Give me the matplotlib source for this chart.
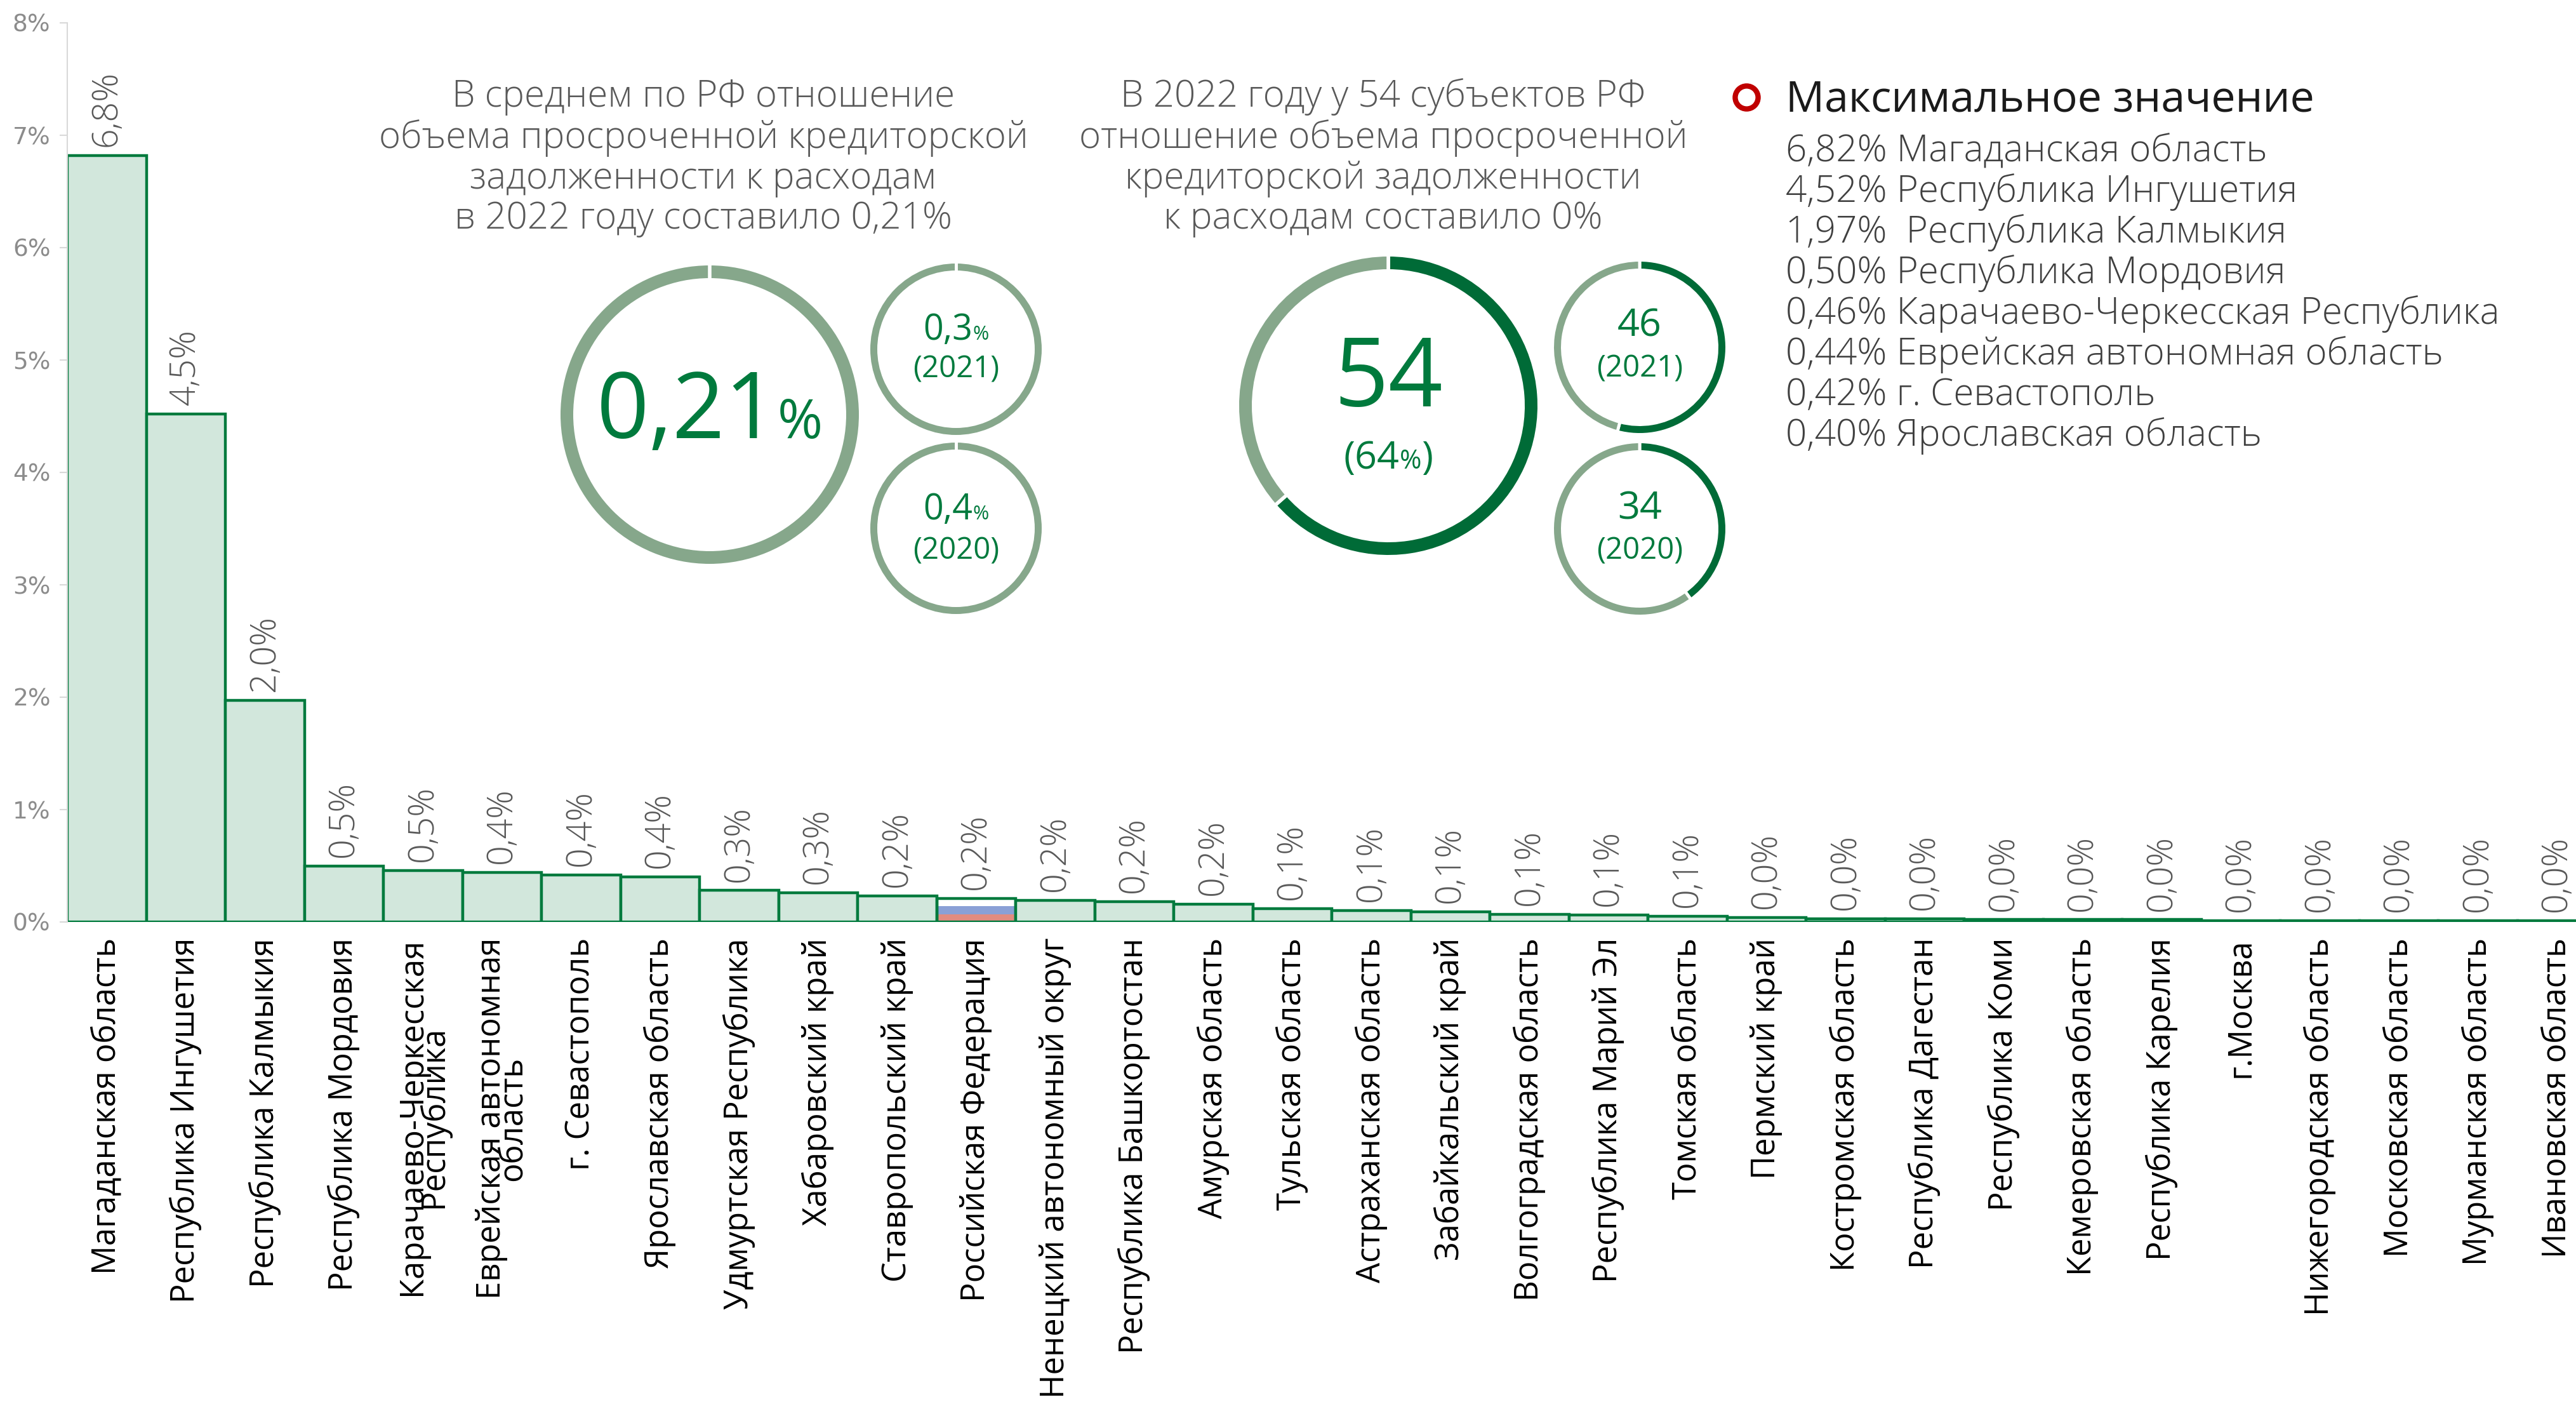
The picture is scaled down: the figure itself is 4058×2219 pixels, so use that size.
import matplotlib
matplotlib.use("Agg")
import matplotlib.pyplot as plt
from matplotlib.lines import Line2D

# data
regions = ['Магаданская область', 'Республика Ингушетия', 'Республика Калмыкия',
           'Республика Мордовия', 'Карачаево-Черкесская\nРеспублика',
           'Еврейская автономная\nобласть', 'г. Севастополь', 'Ярославская область',
           'Удмуртская Республика', 'Хабаровский край', 'Ставропольский край',
           'Российская Федерация', 'Ненецкий автономный округ', 'Республика Башкортостан',
           'Амурская область', 'Тульская область', 'Астраханская область',
           'Забайкальский край', 'Волгоградская область', 'Республика Марий Эл',
           'Томская область', 'Пермский край', 'Костромская область', 'Республика Дагестан',
           'Республика Коми', 'Кемеровская область', 'Республика Карелия', 'г.Москва',
           'Нижегородская область', 'Московская область', 'Мурманская область',
           'Ивановская область']
ratio = [6.82, 4.52, 1.97, 0.50, 0.46, 0.44, 0.42, 0.40, 0.28, 0.26, 0.23, 0.21,
         0.19, 0.18, 0.16, 0.12, 0.10, 0.09, 0.07, 0.06, 0.05, 0.04, 0.03, 0.03,
         0.02, 0.02, 0.02, 0.01, 0.01, 0.01, 0.01, 0.01]
rf_name = 'Российская Федерация'
yticks = [0, 1, 2, 3, 4, 5, 6, 7, 8]

avg_2022, avg_2021, avg_2020 = '0,21', '0,3', '0,4'
subj_total = 85
subj_2022, subj_2021, subj_2020 = 54, 46, 34
subj_share = '64'

text_left = ['В среднем по РФ отношение', 'объема просроченной кредиторской',
             'задолженности к расходам', 'в 2022 году составило 0,21%']
text_mid = ['В 2022 году у 54 субъектов РФ', 'отношение объема просроченной',
            'кредиторской задолженности', 'к расходам составило 0%']
max_title = 'Максимальное значение'
max_list = ['6,82% Магаданская область', '4,52% Республика Ингушетия',
            '1,97%  Республика Калмыкия', '0,50% Республика Мордовия',
            '0,46% Карачаево-Черкесская Республика', '0,44% Еврейская автономная область',
            '0,42% г. Севастополь', '0,40% Ярославская область']

GREEN = '#007a3d'
DARK = '#006b37'
RING = '#86a78b'
FILL = '#d2e7dc'
TXT = '#595959'
FONT = ['Open Sans', 'DejaVu Sans']

plt.rcParams['font.family'] = FONT

W, H = 4058, 2219
fig = plt.figure(figsize=(W / 100, H / 100), dpi=100)


def fx(px):
    return px / W


def fy(py):
    return 1 - py / H


# bar chart
left, base, top = 106, 1452, 36
ax = fig.add_axes([fx(left), fy(base), (W - left) / W, (base - top) / H])
x = list(range(len(regions)))
fills = [FILL if r != rf_name else 'none' for r in regions]
ax.bar(x, ratio, width=1.0, color=fills, edgecolor=GREEN, linewidth=3.2, zorder=2)
# Russian flag in the RF bar
i_rf = regions.index(rf_name)
v_rf = ratio[i_rf]
for k, c in enumerate(['#e28c80', '#8aa0d6', '#ffffff']):
    ax.bar(i_rf, v_rf / 3, bottom=k * v_rf / 3, width=1.0, color=c, linewidth=0, zorder=1)

for i, v in enumerate(ratio):
    lab = ('%.1f' % v).replace('.', ',') + '%'
    ax.annotate(lab, (i, v), xytext=(0, 10), textcoords='offset points', rotation=90,
                ha='center', va='bottom', color=TXT, fontsize=40, fontweight='light')

ax.set_xlim(-0.5, -0.5 + (W - left) / 124.5)
ax.set_ylim(0, 8)
ax.set_yticks(yticks)
ax.set_yticklabels(['%d%%' % t for t in yticks], family='DejaVu Sans', color='#8c8c8c',
                   fontsize=27)
ax.set_xticks(x)
ax.set_xticklabels(regions, rotation=90, fontsize=36.5, color='black', linespacing=0.55,
                   multialignment='center')
ax.tick_params(axis='x', length=0, pad=18)
ax.tick_params(axis='y', length=9, width=1.5, color='#d9d9d9', pad=10)
for s in ['top', 'right', 'bottom']:
    ax.spines[s].set_visible(False)
ax.spines['left'].set_color('#d9d9d9')
ax.spines['left'].set_linewidth(1.5)
ax.patch.set_alpha(0)


# rings: thickness and gap in pixels, the white edge eats gap/2 on each side
def ring(cx, cy, r, vals, colors, thick, gap):
    g = gap / 0.72
    R = r + g / 2
    a = fig.add_axes([fx(cx - R), fy(cy + R), 2 * R / W, 2 * R / H])
    w = (thick + g) / R
    a.pie(vals, colors=colors, startangle=90, counterclock=False, radius=1,
          wedgeprops=dict(width=w, edgecolor='white', linewidth=gap))
    if len(vals) == 1:
        a.plot([0, 0], [1 - w - 0.05, 1.05], color='white', lw=gap, solid_capstyle='butt')
    a.set_xlim(-1, 1)
    a.set_ylim(-1, 1)
    a.set_aspect('equal')
    a.axis('off')
    return a


ring(1118, 653, 235, [1], [RING], 20, 4)
ring(1506, 550, 135, [1], [RING], 11, 3.5)
ring(1506, 832, 135, [1], [RING], 11, 3.5)
ring(2187, 639, 235, [subj_2022, subj_total - subj_2022], [DARK, RING], 20, 4)
ring(2583, 547, 135, [subj_2021, subj_total - subj_2021], [DARK, RING], 11, 3.5)
ring(2583, 833, 135, [subj_2020, subj_total - subj_2020], [DARK, RING], 11, 3.5)

renderer = fig.canvas.get_renderer()


def pieces(cx, y, parts, color=GREEN):
    ts = []
    for s, size in parts:
        ts.append(fig.text(0, fy(y), s, fontsize=size, color=color, ha='left', va='baseline'))
    ws = [t.get_window_extent(renderer).width for t in ts]
    x0 = cx - sum(ws) / 2
    for t, wd in zip(ts, ws):
        t.set_x(fx(x0))
        x0 += wd


pieces(1118, 690, [(avg_2022, 104), ('%', 62)])
pieces(1506, 535, [(avg_2021, 40), ('%', 22)])
pieces(1506, 595, [('(2021)', 34)])
pieces(1506, 818, [(avg_2020, 40), ('%', 22)])
pieces(1506, 880, [('(2020)', 34)])
pieces(2187, 640, [(str(subj_2022), 108)])
pieces(2187, 738, [('(' + subj_share, 44), ('%', 30), (')', 44)])
pieces(2583, 530, [(str(subj_2021), 44)])
pieces(2583, 594, [('(2021)', 34)])
pieces(2583, 817, [(str(subj_2020), 44)])
pieces(2583, 880, [('(2020)', 34)])

# text blocks
for k, line in enumerate(text_left):
    fig.text(fx(1108), fy(153 + k * 64), line, ha='center', va='center', fontsize=42,
             color=TXT, fontweight='light')
for k, line in enumerate(text_mid):
    fig.text(fx(2179), fy(153 + k * 64), line, ha='center', va='center', fontsize=42,
             color=TXT, fontweight='light')

fig.add_artist(Line2D([fx(2751)], [fy(153)], transform=fig.transFigure, marker='o',
                      markersize=26, markerfacecolor='white', markeredgecolor='#c00000',
                      markeredgewidth=6))
fig.text(fx(2813), fy(158), max_title, ha='left', va='center', fontsize=49, color='#1a1a1a')
for k, line in enumerate(max_list):
    fig.text(fx(2813), fy(239 + k * 64), line, ha='left', va='center', fontsize=42,
             color='#404040', fontweight='light')

fig.savefig('out.png', dpi=100, facecolor='white')
